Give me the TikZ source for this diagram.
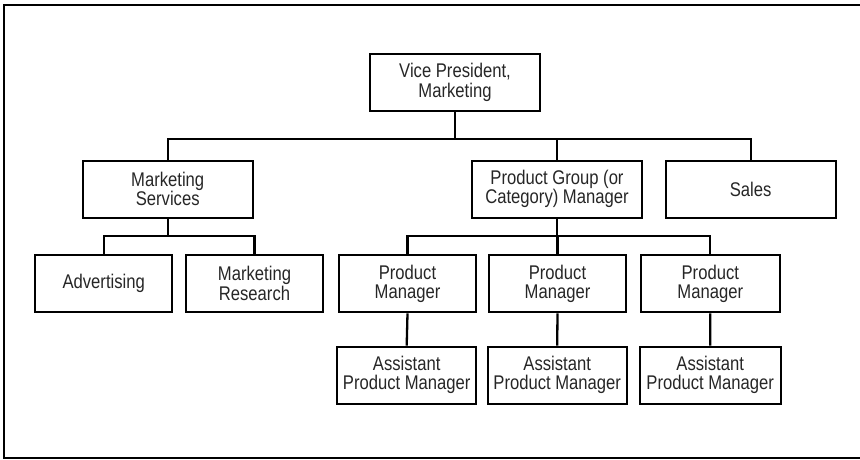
\documentclass[tikz,border=0pt]{standalone}
\usepackage{fontspec}
\setmainfont{Liberation Sans}[FakeStretch=0.84]
\begin{document}
\begin{tikzpicture}[x=1pt,y=-1pt,
  box/.style={draw, line width=2.3pt, minimum height=57pt, inner sep=0pt, align=center,
    font=\fontsize{19.8}{19.3}\selectfont, text=black!85},
  wide/.style={box, minimum width=170pt},
  narrow/.style={box, minimum width=137pt},
  link/.style={line width=2.3pt}]
\useasboundingbox (0,0) rectangle (860,459);
\draw[line width=2pt] (864,5) -- (4,5) -- (4,458) -- (864,458);
\node[wide] (vp) at (455,82.5) {Vice President,\\Marketing};
\node[wide] (ms) at (167.7,189.2) {Marketing\\Services};
\node[wide] (pg) at (557,189.2) {Product Group (or\\Category) Manager};
\node[wide] (sales) at (750.7,189.5) {Sales};
\node[narrow] (adv) at (103.7,283.4) {Advertising};
\node[narrow] (mr) at (254.5,283.4) {Marketing\\Research};
\node[narrow] (pm1) at (407.5,283.8) {Product\\Manager};
\node[narrow] (pm2) at (557.5,283.8) {Product\\Manager};
\node[narrow,minimum width=139pt] (pm3) at (710.3,283.8) {Product\\Manager};
\node[narrow,minimum width=139pt] (apm1) at (406.7,375.2) {Assistant\\Product Manager};
\node[narrow,minimum width=139pt] (apm2) at (557.2,375.2) {Assistant\\Product Manager};
\node[narrow,minimum width=141pt] (apm3) at (710.2,375.2) {Assistant\\Product Manager};
\coordinate (b1) at (455,139.3);
\coordinate (b2) at (167.7,236.3);
\coordinate (b3) at (557,236.3);
\draw[link] (vp.south) -- (vp.south |- b1);
\draw[link] (ms.north) -- (ms.north |- b1) -| (sales.north);
\draw[link] (pg.north) -- (pg.north |- b1);
\draw[link] (ms.south) -- (ms.south |- b2);
\draw[link] (adv.north) -- (adv.north |- b2) -| (mr.north);
\draw[link] (pg.south) -- (pg.south |- b3);
\draw[link] (pm1.north) -- (pm1.north |- b3) -| (pm3.north);
\draw[link] (pm2.north) -- (pm2.north |- b3);
\draw[link] (pm1.south) -- (apm1.north);
\draw[link] (pm2.south) -- (apm2.north);
\draw[link] (pm3.south) -- (apm3.north);
\end{tikzpicture}
\end{document}
